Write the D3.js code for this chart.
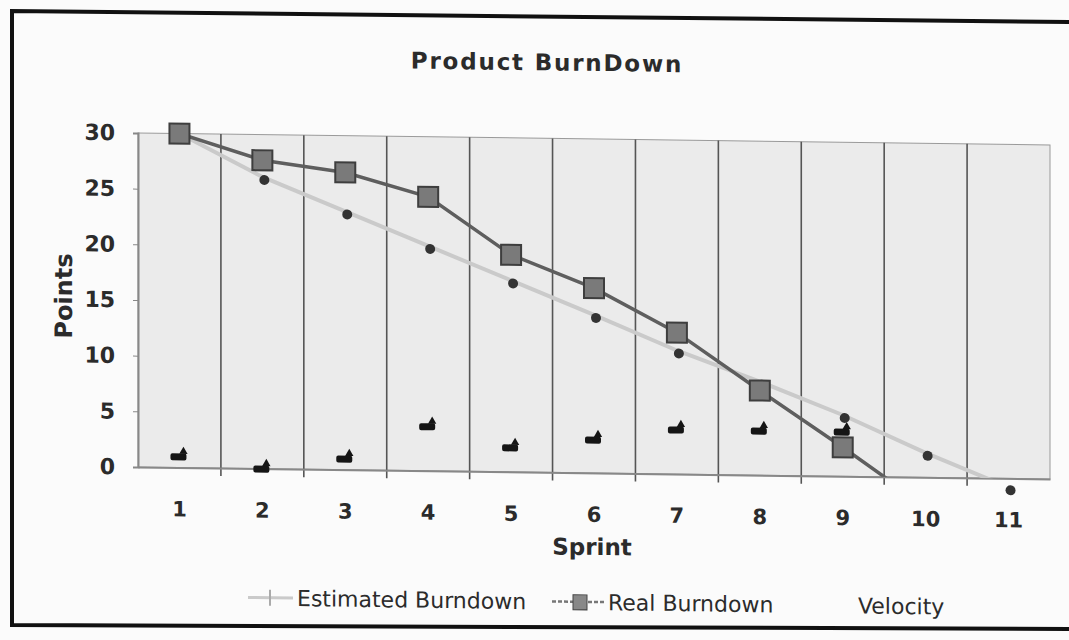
<!DOCTYPE html>
<html>
<head>
<meta charset="utf-8">
<script src="https://cdnjs.cloudflare.com/ajax/libs/d3/7.8.5/d3.min.js"></script>
<style>
  body { margin: 0; background: #fbfbfb; }
  text { font-family: "DejaVu Sans", Verdana, sans-serif; fill: #2b2b2b; }
</style>
</head>
<body>
<svg id="chart" width="1069" height="640"></svg>
<script>
// ========== data

const sprints = ['1', '2', '3', '4', '5', '6', '7', '8', '9', '10', '11'];
const estimated = [30, 26.2, 23.2, 20.2, 17.2, 14.2, 11.1, 8.4, 5.5, 2.2, -0.8];
const real = [30, 27.7, 26.7, 24.6, 19.5, 16.6, 12.7, 7.6, 2.6, -2.6];
const velocity = [1, 0, 1, 4, 2.2, 3, 4, 4, 4];
const yTicks = [0, 5, 10, 15, 20, 25, 30];

// ========== layout

const margin = {top: 133, left: 138, width: 912, height: 334};
const skew = 0.75; // the scan is slightly sheared

const svg = d3.select('#chart');

// frame of the scanned page
svg.append('path')
  .attr('d', 'M1069,22 L12,11 L12,625 L1069,629')
  .attr('fill', 'none')
  .attr('stroke', '#111')
  .attr('stroke-width', 4);

const g = svg.append('g')
  .attr('transform', `translate(${margin.left},${margin.top + margin.height}) skewY(${skew}) translate(${-margin.left},${-(margin.top + margin.height)})`);

const x = d3.scaleBand()
  .domain(sprints)
  .range([margin.left, margin.left + margin.width]);
const xc = (i) => x(sprints[i]) + x.bandwidth() / 2;

const y = d3.scaleLinear()
  .domain([0, 30])
  .range([margin.top + margin.height, margin.top]);

// plot area
g.append('rect')
  .attr('x', margin.left).attr('y', margin.top)
  .attr('width', margin.width).attr('height', margin.height)
  .attr('fill', '#ebebeb')
  .attr('stroke', '#9a9a9a');

g.append('clipPath').attr('id', 'plotclip')
  .append('rect')
  .attr('x', margin.left).attr('y', margin.top)
  .attr('width', margin.width).attr('height', margin.height);

// vertical gridlines between categories
g.append('g').selectAll('line')
  .data(sprints.slice(1))
  .enter().append('line')
  .attr('x1', d => x(d)).attr('x2', d => x(d))
  .attr('y1', margin.top).attr('y2', margin.top + margin.height + 8)
  .attr('stroke', '#555').attr('stroke-width', 1.6);

// y axis
const yAxis = g.append('g')
  .attr('transform', `translate(${margin.left},0)`)
  .call(d3.axisLeft(y).tickValues(yTicks).tickSize(5).tickPadding(18));
yAxis.select('.domain').attr('stroke', '#888').attr('stroke-width', 2);
yAxis.selectAll('.tick line').attr('stroke', '#888');
yAxis.selectAll('text')
  .style('font-size', '22px').style('font-weight', 'bold')
  .attr('fill', '#2b2b2b');

// x axis
const xAxis = g.append('g')
  .attr('transform', `translate(0,${margin.top + margin.height})`)
  .call(d3.axisBottom(x).tickSize(0).tickPadding(34));
xAxis.select('.domain').attr('stroke', '#888').attr('stroke-width', 2);
xAxis.selectAll('text')
  .style('font-size', '21px').style('font-weight', 'bold')
  .attr('fill', '#333');

// titles
g.append('text')
  .attr('x', 547).attr('y', 65)
  .attr('text-anchor', 'middle')
  .style('font-size', '23px').style('font-weight', 'bold')
  .style('letter-spacing', '1.8px')
  .text('Product BurnDown');

g.append('text')
  .attr('x', 592).attr('y', 549)
  .attr('text-anchor', 'middle')
  .style('font-size', '23px').style('font-weight', 'bold')
  .text('Sprint');

g.append('text')
  .attr('transform', 'translate(72,297) rotate(-90)')
  .attr('text-anchor', 'middle')
  .style('font-size', '24px').style('font-weight', 'bold')
  .text('Points');

// ========== series

const line = d3.line()
  .x((d, i) => xc(i))
  .y(d => y(d));

g.append('path')
  .datum(estimated)
  .attr('clip-path', 'url(#plotclip)')
  .attr('d', line)
  .attr('fill', 'none')
  .attr('stroke', '#cacaca')
  .attr('stroke-width', 4);

g.append('path')
  .datum(real)
  .attr('clip-path', 'url(#plotclip)')
  .attr('d', line)
  .attr('fill', 'none')
  .attr('stroke', '#5e5e5e')
  .attr('stroke-width', 3.5);

// estimated markers
g.append('g').selectAll('circle')
  .data(estimated)
  .enter().append('circle')
  .attr('cx', (d, i) => xc(i) + 2)
  .attr('cy', d => y(d) + 3)
  .attr('r', 5)
  .attr('fill', '#333');

// real markers (only those inside the axis range)
g.append('g').selectAll('rect')
  .data(real.map((v, i) => ({v, i})).filter(d => d.v >= 0))
  .enter().append('rect')
  .attr('x', d => xc(d.i) - 10)
  .attr('y', d => y(d.v) - 10)
  .attr('width', 20).attr('height', 20)
  .attr('fill', '#7a7a7a')
  .attr('stroke', '#3e3e3e')
  .attr('stroke-width', 2);

// velocity markers
const vel = g.append('g').selectAll('g')
  .data(velocity)
  .enter().append('g')
  .attr('transform', (d, i) => `translate(${xc(i)},${y(d)})`);
vel.append('rect')
  .attr('x', -9).attr('y', -3)
  .attr('width', 16).attr('height', 7)
  .attr('rx', 2)
  .attr('fill', '#151515');
vel.append('path')
  .attr('d', d3.symbol(d3.symbolTriangle, 30))
  .attr('transform', 'translate(4,-5)')
  .attr('fill', '#151515');

// ========== legend

const ly = 604;
const leg = g.append('g');
leg.append('line')
  .attr('x1', 248).attr('x2', 293).attr('y1', ly - 8).attr('y2', ly - 8)
  .attr('stroke', '#cacaca').attr('stroke-width', 3);
leg.append('line')
  .attr('x1', 270).attr('x2', 270).attr('y1', ly - 16).attr('y2', ly)
  .attr('stroke', '#aaa').attr('stroke-width', 2);
leg.append('text')
  .attr('x', 297).attr('y', ly)
  .style('font-size', '22px')
  .text('Estimated Burndown');

leg.append('line')
  .attr('x1', 552).attr('x2', 606).attr('y1', ly - 8).attr('y2', ly - 8)
  .attr('stroke', '#777').attr('stroke-width', 2.5).attr('stroke-dasharray', '4,2');
leg.append('rect')
  .attr('x', 573).attr('y', ly - 15).attr('width', 14).attr('height', 15)
  .attr('fill', '#888').attr('stroke', '#444');
leg.append('text')
  .attr('x', 608).attr('y', ly)
  .style('font-size', '22px')
  .text('Real Burndown');

leg.append('text')
  .attr('x', 858).attr('y', ly)
  .style('font-size', '22px')
  .text('Velocity');
</script>
</body>
</html>
